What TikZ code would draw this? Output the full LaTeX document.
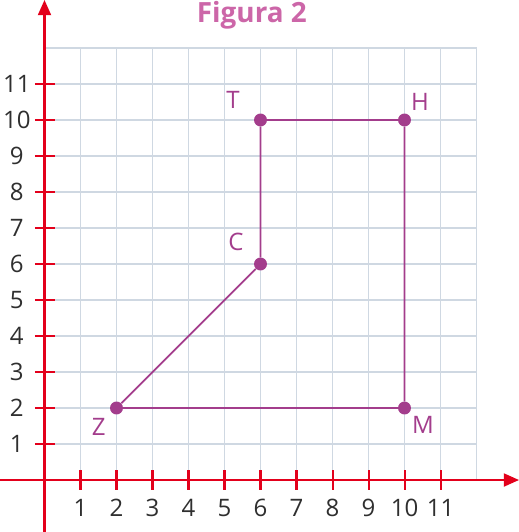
\documentclass[tikz,border=0pt]{standalone}
\usepackage{fontspec}
\setmainfont{Open Sans}
\usetikzlibrary{arrows.meta}
\definecolor{axisred}{HTML}{E3001B}
\definecolor{gridblue}{HTML}{CFD8E2}
\definecolor{pointviolet}{HTML}{A33D8C}
\definecolor{titlepink}{HTML}{CC66A8}
\definecolor{numgray}{HTML}{2F2F2F}
\begin{document}
\begin{tikzpicture}

\tikzstyle{gridline} = [gridblue, line width=1.2pt]
\tikzstyle{axisline} = [axisred, line width=1.6pt, -{Triangle[length=0.42cm, width=0.36cm]}]
\tikzstyle{tickmark} = [axisred, line width=1.6pt]
\tikzstyle{num} = [numgray, font=\fontsize{19}{22}\selectfont, inner sep=0pt]
\tikzstyle{dot} = [circle, fill=pointviolet, inner sep=0pt, minimum size=0.36cm]
\tikzstyle{ptlabel} = [pointviolet, font=\fontsize{19}{22}\selectfont, inner sep=0pt]
\tikzstyle{segment} = [pointviolet, line width=1.4pt]

\useasboundingbox (-1.236,-1.444) rectangle (13.18,13.333);

\draw [gridline] (0,0) grid (12,12);

\node (title) [titlepink, font=\fontsize{22}{26}\selectfont\bfseries] at (5.76,12.9) {Figura 2};

\draw [axisline] (-1.25,0) -- (13.18,0);
\draw [axisline] (0,-1.45) -- (0,13.333);

\foreach \n in {1,...,11} {
  \draw [tickmark] (\n,-0.27) -- (\n,0.27);
  \draw [tickmark] (-0.27,\n) -- (0.28,\n);
  \node (xl\n) [num] at (\n,-0.78) {\n};
  \node (yl\n) [num] at (-0.77,\n) {\n};
}

\node (Z) [dot] at (2,2) {};
\node (C) [dot] at (6,6) {};
\node (T) [dot] at (6,10) {};
\node (H) [dot] at (10,10) {};
\node (M) [dot] at (10,2) {};

\draw [segment] (Z) -- (C) -- (T) -- (H) -- (M) -- (Z);

\node (zlabel) [ptlabel] at (1.51,1.47) {Z};
\node (clabel) [ptlabel] at (5.32,6.61) {C};
\node (tlabel) [ptlabel] at (5.24,10.56) {T};
\node (hlabel) [ptlabel] at (10.43,10.5) {H};
\node (mlabel) [ptlabel] at (10.51,1.53) {M};

\end{tikzpicture}
\end{document}
